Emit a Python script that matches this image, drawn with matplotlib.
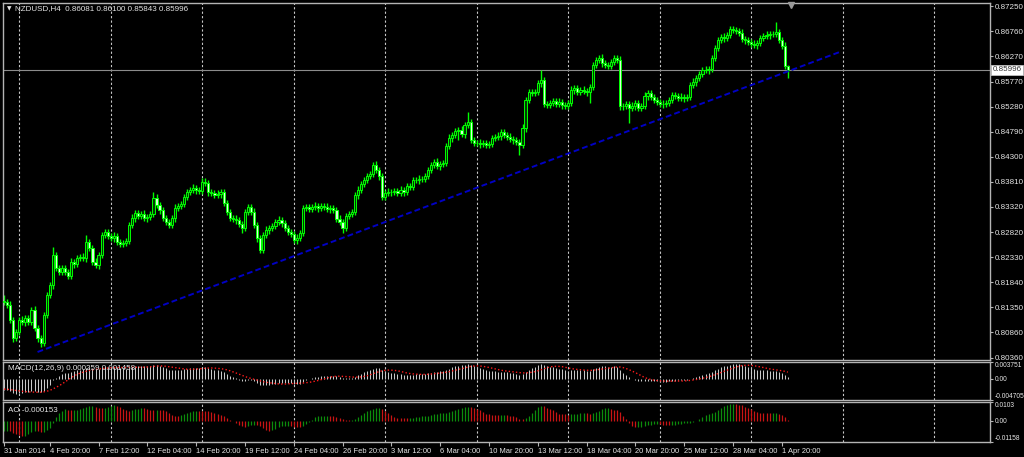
import numpy as np
import pandas as pd
import matplotlib
matplotlib.use("Agg")
import matplotlib.pyplot as plt
from matplotlib.transforms import blended_transform_factory

plt.rcParams['font.family'] = ['Liberation Sans', 'DejaVu Sans']

# ---------------- data ----------------
symbol = "NZDUSD,H4"
header_ohlc = ["0.86081", "0.86100", "0.85843", "0.85996"]

# H4 closes, 31 Jan 2014 08:00 ... 2 Apr 2014 04:00
closes = [
    0.81449, 0.81390, 0.81096, 0.80743, 0.80861, 0.81096, 0.81057, 0.81135, 0.81057, 0.81292,
    0.80939, 0.80743, 0.80645, 0.81194, 0.81586, 0.81782, 0.82370, 0.82115, 0.82037, 0.82115,
    0.82037, 0.81958, 0.82233, 0.82194, 0.82311, 0.82331, 0.82311, 0.82625, 0.82507, 0.82233,
    0.82174, 0.82370, 0.82762, 0.82821, 0.82742, 0.82703, 0.82742, 0.82625, 0.82586, 0.82605,
    0.82644, 0.82958, 0.83095, 0.83193, 0.83134, 0.83174, 0.83095, 0.83115, 0.83174, 0.83487,
    0.83350, 0.83252, 0.83095, 0.83017, 0.82958, 0.83095, 0.83291, 0.83330, 0.83370, 0.83507,
    0.83605, 0.83644, 0.83683, 0.83644, 0.83624, 0.83801, 0.83781, 0.83605, 0.83585, 0.83546,
    0.83566, 0.83605, 0.83389, 0.83213, 0.83095, 0.83076, 0.83056, 0.82978, 0.82899, 0.83213,
    0.83311, 0.83213, 0.82958, 0.82703, 0.82468, 0.82762, 0.82860, 0.82899, 0.82938, 0.83017,
    0.83056, 0.82997, 0.82899, 0.82821, 0.82782, 0.82664, 0.82703, 0.82801, 0.83291, 0.83311,
    0.83272, 0.83311, 0.83330, 0.83291, 0.83330, 0.83311, 0.83272, 0.83291, 0.83252, 0.83076,
    0.83017, 0.82899, 0.83134, 0.83174, 0.83213, 0.83546, 0.83644, 0.83762, 0.83840, 0.83918,
    0.83958, 0.84134, 0.84036, 0.83918, 0.83507, 0.83585, 0.83605, 0.83605, 0.83624, 0.83585,
    0.83644, 0.83605, 0.83722, 0.83703, 0.83840, 0.83840, 0.83860, 0.83860, 0.83918, 0.84036,
    0.84134, 0.84193, 0.84114, 0.84154, 0.84173, 0.84506, 0.84663, 0.84722, 0.84800, 0.84820,
    0.84742, 0.84918, 0.84977, 0.84624, 0.84565, 0.84565, 0.84546, 0.84565, 0.84526, 0.84546,
    0.84663, 0.84683, 0.84702, 0.84781, 0.84722, 0.84683, 0.84644, 0.84624, 0.84585, 0.84526,
    0.84859, 0.85408, 0.85565, 0.85545, 0.85565, 0.85741, 0.85800, 0.85330, 0.85310, 0.85349,
    0.85388, 0.85330, 0.85369, 0.85310, 0.85290, 0.85349, 0.85604, 0.85643, 0.85565, 0.85604,
    0.85584, 0.85565, 0.85663, 0.86094, 0.86192, 0.86231, 0.86133, 0.86094, 0.86074, 0.86153,
    0.86231, 0.86192, 0.85290, 0.85290, 0.85330, 0.85251, 0.85290, 0.85349, 0.85251, 0.85290,
    0.85486, 0.85545, 0.85467, 0.85408, 0.85369, 0.85330, 0.85330, 0.85349, 0.85408, 0.85506,
    0.85486, 0.85447, 0.85467, 0.85447, 0.85467, 0.85702, 0.85761, 0.85839, 0.85918, 0.85996,
    0.85996, 0.86016, 0.86231, 0.86427, 0.86584, 0.86643, 0.86623, 0.86682, 0.86800, 0.86780,
    0.86760, 0.86721, 0.86604, 0.86584, 0.86545, 0.86506, 0.86486, 0.86525, 0.86623, 0.86662,
    0.86682, 0.86702, 0.86702, 0.86741, 0.86584, 0.86466, 0.86081, 0.85996,
]

# wick lengths (pips) above the body top / below the body bottom
upper_wick_pips = [
    12, 5, 7, 6, 5, 6, 7, 6, 5, 6, 7, 6, 5, 6, 5, 6, 16, 6, 5, 6,
    6, 5, 7, 6, 5, 6, 7, 14, 5, 6, 7, 6, 5, 6, 5, 6, 7, 6, 5, 6,
    6, 5, 7, 6, 5, 6, 7, 6, 5, 12, 7, 6, 5, 6, 5, 6, 7, 6, 5, 6,
    6, 5, 7, 6, 5, 8, 7, 6, 5, 6, 7, 6, 5, 6, 5, 6, 7, 6, 5, 6,
    6, 5, 7, 6, 5, 6, 7, 6, 5, 6, 7, 6, 5, 6, 5, 6, 7, 6, 5, 6,
    6, 5, 7, 6, 5, 6, 7, 6, 5, 6, 7, 6, 5, 6, 5, 6, 7, 6, 5, 6,
    6, 6, 7, 6, 5, 6, 7, 6, 5, 6, 7, 6, 5, 6, 5, 6, 7, 6, 5, 6,
    6, 5, 7, 6, 5, 6, 7, 6, 5, 6, 7, 6, 20, 6, 5, 6, 7, 6, 5, 6,
    6, 5, 7, 6, 5, 6, 7, 6, 5, 6, 7, 6, 5, 6, 5, 6, 20, 6, 5, 6,
    6, 5, 7, 6, 5, 6, 7, 6, 5, 6, 7, 6, 5, 6, 5, 6, 7, 6, 5, 6,
    6, 5, 7, 6, 5, 6, 7, 6, 5, 6, 7, 6, 5, 6, 5, 6, 7, 6, 5, 6,
    6, 5, 7, 6, 5, 6, 7, 6, 5, 6, 7, 6, 5, 6, 5, 6, 7, 6, 5, 6,
    6, 5, 7, 6, 5, 6, 7, 6, 5, 6, 7, 6, 5, 20, 5, 6, 7, 2,
]
lower_wick_pips = [
    5, 6, 6, 7, 5, 6, 5, 7, 6, 5, 6, 7, 8, 6, 6, 5, 7, 6, 5, 6,
    5, 6, 6, 7, 5, 6, 5, 7, 6, 5, 6, 7, 5, 6, 6, 5, 7, 6, 5, 6,
    5, 6, 6, 7, 5, 6, 5, 7, 6, 5, 6, 7, 5, 6, 6, 5, 7, 6, 5, 6,
    5, 6, 6, 7, 5, 6, 5, 7, 6, 5, 6, 7, 5, 6, 6, 5, 7, 6, 10, 6,
    5, 6, 6, 7, 6, 6, 5, 7, 6, 5, 6, 7, 5, 6, 6, 5, 7, 6, 5, 6,
    5, 6, 6, 7, 5, 6, 5, 7, 6, 5, 6, 10, 5, 6, 6, 5, 7, 6, 5, 6,
    5, 6, 6, 7, 5, 6, 5, 7, 6, 5, 6, 7, 5, 6, 6, 5, 7, 6, 5, 6,
    5, 6, 6, 7, 5, 6, 5, 7, 6, 18, 6, 7, 5, 6, 6, 5, 7, 6, 5, 6,
    5, 6, 6, 7, 5, 6, 5, 7, 6, 20, 6, 7, 5, 6, 6, 5, 7, 6, 5, 6,
    5, 6, 6, 7, 5, 6, 5, 7, 6, 5, 6, 7, 22, 6, 6, 5, 7, 6, 5, 6,
    5, 6, 8, 7, 5, 30, 5, 7, 6, 5, 6, 7, 5, 6, 6, 5, 7, 6, 5, 6,
    5, 6, 6, 7, 5, 6, 5, 7, 6, 5, 6, 7, 5, 6, 6, 5, 7, 6, 5, 6,
    5, 6, 6, 7, 5, 6, 5, 7, 6, 5, 6, 7, 5, 6, 6, 5, 7, 15,
]

# closes of the bars before the visible window (only seed the indicators)
warmup_closes = [
    0.8262, 0.8270, 0.8258, 0.8251, 0.8262, 0.8255, 0.8243, 0.8248, 0.8240, 0.8236,
    0.8245, 0.8250, 0.8239, 0.8231, 0.8226, 0.8233, 0.8240, 0.8232, 0.8221, 0.8208,
    0.8196, 0.8188, 0.8194, 0.8183, 0.8176, 0.8169, 0.8175, 0.8166, 0.8159, 0.8164,
    0.8156, 0.8149, 0.8154, 0.8147,
]

price_ticks = [0.87250, 0.86760, 0.86270, 0.85770, 0.85280, 0.84790, 0.84300,
               0.83810, 0.83320, 0.82820, 0.82330, 0.81840, 0.81350, 0.80860, 0.80360]
time_labels = ["31 Jan 2014", "4 Feb 20:00", "7 Feb 12:00", "12 Feb 04:00", "14 Feb 20:00",
               "19 Feb 12:00", "24 Feb 04:00", "26 Feb 20:00", "3 Mar 12:00", "6 Mar 04:00",
               "10 Mar 20:00", "13 Mar 12:00", "18 Mar 04:00", "20 Mar 20:00", "25 Mar 12:00",
               "28 Mar 04:00", "1 Apr 20:00"]
trend_bars = [11, 274]
trend_prices = [0.80469, 0.86349]
last_price = 0.85996
macd_labels = ["0.003751", "0.00", "-0.004705"]
macd_values = [0.003751, 0.0, -0.004705]
ao_labels = ["0.0103", "0.00", "-0.01158"]
ao_values = [0.0103, 0.0, -0.01158]
macd_title = "MACD(12,26,9) 0.000259 0.001458"
ao_title = "AO -0.000153"

# ---------------- derived series ----------------
n = len(closes)
x = np.arange(n)
c = np.array(closes)
o = np.r_[warmup_closes[-1], c[:-1]]
h = np.maximum(o, c) + np.array(upper_wick_pips) * 1e-4
l = np.minimum(o, c) - np.array(lower_wick_pips) * 1e-4

nw = len(warmup_closes)
allc = pd.Series(list(warmup_closes) + list(c))
macd = allc.ewm(span=12, adjust=False).mean() - allc.ewm(span=26, adjust=False).mean()
signal = macd.rolling(9, min_periods=1).mean()
med = pd.Series(list(warmup_closes) + list((h + l) / 2))
ao = med.rolling(5, min_periods=1).mean() - med.rolling(34, min_periods=1).mean()
ao_up = (ao.diff() >= 0).values[nw:]
macd_v = macd.values[nw:]
signal_v = signal.values[nw:]
ao_v = ao.values[nw:]

# ---------------- figure ----------------
W, H = 1024, 457
fig = plt.figure(figsize=(W / 100, H / 100), dpi=100, facecolor='black')
LEFT, RIGHT = 3, 990
XPB = 3.05  # pixels per bar
x_lo = (LEFT - 4) / XPB
x_hi = (RIGHT - 4) / XPB

spine_col = '#b4b4b4'
text_col = '#e6e6e6'
FS = 5.8
FS_IND = 4.8
FS_DATE = 5.4


def pane(top, bottom, fs):
    a = fig.add_axes([LEFT / W, 1 - bottom / H, (RIGHT - LEFT) / W, (bottom - top) / H])
    a.set_facecolor('black')
    for s in a.spines.values():
        s.set_color(spine_col)
        s.set_linewidth(1.0)
    a.set_xlim(x_lo, x_hi)
    a.tick_params(axis='x', bottom=False, labelbottom=False)
    a.yaxis.set_ticks_position('right')
    a.tick_params(axis='y', direction='out', length=2.5, width=0.8, color=spine_col,
                  labelcolor=text_col, labelsize=fs, pad=1.0)
    return a


ax = pane(3, 360, FS)
axm = pane(362, 400, FS_IND)
axa = pane(402, 442, FS_IND)

grid_bars = [5 + 30 * k for k in range(11)]
for a in (ax, axm, axa):
    for gb in grid_bars:
        a.axvline(gb, color='#c8c8c8', lw=0.8, ls=(0, (2, 2)), zorder=0)

# ---- main price pane ----
ax.set_ylim(0.80312, 0.87309)
ax.set_yticks(price_ticks)
ax.set_yticklabels([f"{p:.5f}" for p in price_ticks])
ax.axhline(last_price, color='#8c8c8c', lw=0.8, zorder=1)

green = '#00ff00'
ax.vlines(x, l, h, color=green, lw=1.0, zorder=2)
up = c >= o
ax.bar(x[up], c[up] - o[up], bottom=o[up], width=0.7, color='#003a00',
       edgecolor=green, linewidth=0.7, zorder=3)
ax.bar(x[~up], o[~up] - c[~up], bottom=c[~up], width=0.7, color='#d8ffd8',
       edgecolor=green, linewidth=0.7, zorder=3)

ax.plot(trend_bars, trend_prices, color='#0000c4', lw=1.4, dashes=(3, 1.6), zorder=4)

# last price box
bt = blended_transform_factory(ax.transAxes, ax.transData)
ax.text(1.0 + 2.5 / (RIGHT - LEFT), last_price, f"{last_price:.5f}", transform=bt,
        ha='left', va='center', fontsize=FS, color='#303030',
        bbox=dict(boxstyle='square,pad=0.15', fc='white', ec='#c0c0c0', lw=0.6),
        zorder=10, clip_on=False)

# chart shift marker
ax.plot([258.0], [0.994], marker='v', ms=4.5, color='#9a9a9a', mec='#9a9a9a',
        transform=blended_transform_factory(ax.transData, ax.transAxes), clip_on=False, zorder=6)

# header
fig.text(6.5 / W, 1 - 9 / H, "▼", fontsize=4.2, color=text_col, va='center', ha='left',
         family=['DejaVu Sans'])
fig.text(15 / W, 1 - 9 / H, f"{symbol}  " + " ".join(header_ohlc), fontsize=FS,
         color=text_col, va='center', ha='left')

# ---- MACD pane ----
axm.set_ylim(macd_values[2], macd_values[0])
axm.vlines(x, 0, macd_v, color='#c8c8c8', lw=0.75, zorder=2)
axm.plot(x, signal_v, color='#ff1a1a', lw=1.0, ls=(0, (1, 1.6)), zorder=3)
axm.set_yticks(macd_values)
axm.set_yticklabels(macd_labels)
tl = axm.get_yticklabels()
tl[0].set_va('top')
tl[2].set_va('bottom')
axm.text(5 / (RIGHT - LEFT), 1 - 7 / 38, macd_title, transform=axm.transAxes,
         fontsize=FS, color=text_col, ha='left', va='center', zorder=5)

# ---- AO pane ----
axa.set_ylim(ao_values[2], ao_values[0])
axa.vlines(x[ao_up], 0, ao_v[ao_up], color='#0c8c0c', lw=0.9, zorder=2)
axa.vlines(x[~ao_up], 0, ao_v[~ao_up], color='#c81414', lw=0.9, zorder=2)
axa.set_yticks(ao_values)
axa.set_yticklabels(ao_labels)
tl = axa.get_yticklabels()
tl[0].set_va('top')
tl[2].set_va('bottom')
axa.text(5 / (RIGHT - LEFT), 1 - 8 / 40, ao_title, transform=axa.transAxes,
         fontsize=FS, color=text_col, ha='left', va='center', zorder=5)

label_bars = [0] + [15 + 16 * k for k in range(len(time_labels) - 1)]
axa.set_xticks(label_bars)
axa.set_xticklabels(time_labels)
axa.tick_params(axis='x', bottom=True, labelbottom=True, direction='out', length=3,
                width=0.8, color=spine_col, labelcolor=text_col, labelsize=FS_DATE, pad=1.5)
for t in axa.get_xticklabels():
    t.set_ha('left')

fig.savefig("out.png", dpi=100, facecolor='black')
